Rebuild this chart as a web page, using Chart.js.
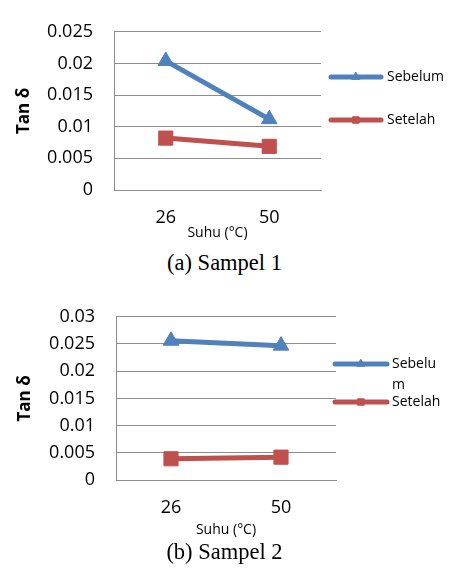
<!DOCTYPE html>
<html>
<head>
<meta charset="utf-8">
<script src="https://cdn.jsdelivr.net/npm/chart.js"></script>
<style>
    body { margin: 0; background: #fff; }
    #page { position: relative; width: 449px; height: 572px; overflow: hidden; }
    .box { position: absolute; left: 0; width: 449px; }
    .caption { position: absolute; left: 0; width: 449px; text-align: center;
        font-family: "Liberation Serif", serif; font-size: 22.5px; color: #000; }
</style>
</head>
<body>
<div id="page">
    <div class="box" style="top:0;height:250px"><canvas id="chart1" width="449" height="250"></canvas></div>
    <div class="caption" style="top:250px">(a) Sampel 1</div>
    <div class="box" style="top:285px;height:260px"><canvas id="chart2" width="449" height="260"></canvas></div>
    <div class="caption" style="top:539px">(b) Sampel 2</div>
</div>
<script>
// Data
const suhuLabels = ['26', '50'];
const seriesNames = ['Sebelum', 'Setelah'];

const sampel1Sebelum = [0.0204, 0.0112];
const sampel1Setelah = [0.0082, 0.0069];
const sampel1Ticks = ['0', '0.005', '0.01', '0.015', '0.02', '0.025'];

const sampel2Sebelum = [0.0256, 0.0247];
const sampel2Setelah = [0.0039, 0.0042];
const sampel2Ticks = ['0', '0.005', '0.01', '0.015', '0.02', '0.025', '0.03'];

const BLUE = '#4f81bd';
const RED = '#c0504d';
const GRID = '#8c8c8c';
const FONT = '"Open Sans", "Liberation Sans", sans-serif';

// legend drawn at the right side, like the Excel one
const sideLegend = {
    id: 'sideLegend',
    afterDraw(chart, args, opts) {
        const ctx = chart.ctx;
        ctx.save();
        ctx.font = '14px ' + FONT;
        ctx.fillStyle = '#000';
        ctx.textBaseline = 'middle';
        chart.data.datasets.forEach((ds, i) => {
            const y = opts.rows[i];
            ctx.strokeStyle = ds.borderColor;
            ctx.lineWidth = 5;
            ctx.lineCap = 'round';
            ctx.beginPath();
            ctx.moveTo(opts.x0, y);
            ctx.lineTo(opts.x1, y);
            ctx.stroke();
            ctx.fillStyle = ds.borderColor;
            ctx.lineWidth = 1;
            Chart.helpers.drawPoint(ctx, {
                pointStyle: ds.pointStyle, rotation: 0, borderWidth: 1, radius: 4.5
            }, (opts.x0 + opts.x1) / 2, y);
            ctx.fill();

            // wrap the label if it doesn't fit
            ctx.fillStyle = '#000';
            let lines = [];
            let cur = '';
            for (const ch of ds.label) {
                if (ctx.measureText(cur + ch).width > opts.maxWidth && cur) {
                    lines.push(cur);
                    cur = ch;
                } else {
                    cur += ch;
                }
            }
            lines.push(cur);
            lines.forEach((t, k) => ctx.fillText(t, opts.textX, y + k * 21));
        });
        ctx.restore();
    }
};

function makeChart(id, sebelum, setelah, ticks, cfg) {
    const maxVal = parseFloat(ticks[ticks.length - 1]);
    return new Chart(document.getElementById(id), {
        type: 'line',
        data: {
            labels: suhuLabels,
            datasets: [{
                label: seriesNames[0],
                data: sebelum,
                borderColor: BLUE,
                backgroundColor: BLUE,
                borderWidth: 5,
                pointStyle: 'triangle',
                pointRadius: 9,
                pointBorderWidth: 1
            }, {
                label: seriesNames[1],
                data: setelah,
                borderColor: RED,
                backgroundColor: RED,
                borderWidth: 5,
                pointStyle: 'rect',
                pointRadius: 10,
                pointBorderWidth: 1
            }]
        },
        options: {
            responsive: false,
            animation: false,
            layout: { padding: cfg.padding },
            plugins: {
                legend: { display: false },
                tooltip: { enabled: false },
                sideLegend: cfg.legend
            },
            scales: {
                x: {
                    offset: true,
                    grid: { display: false, drawTicks: false },
                    border: { color: GRID, width: 1 },
                    ticks: { color: '#000', font: { family: FONT, size: 18 }, padding: 17 },
                    title: {
                        display: true, text: 'Suhu (°C)', color: '#000', padding: 0,
                        font: { family: FONT, size: 14 }
                    },
                    afterFit: (s) => { s.height = cfg.xHeight; }
                },
                y: {
                    min: 0,
                    max: maxVal,
                    grid: { color: GRID, drawTicks: false },
                    border: { color: GRID, width: 1 },
                    ticks: {
                        stepSize: 0.005,
                        color: '#000',
                        font: { family: FONT, size: 18 },
                        padding: 21,
                        callback: (v, i) => ticks[i]
                    },
                    title: {
                        display: true, text: 'Tan δ', color: '#000', padding: 0,
                        font: { family: FONT, size: 17, weight: 'bold' }
                    },
                    afterFit: (s) => { s.width = cfg.yWidth; }
                }
            }
        },
        plugins: [sideLegend]
    });
}

makeChart('chart1', sampel1Sebelum, sampel1Setelah, sampel1Ticks, {
    padding: { left: 14, right: 128, top: 18, bottom: 9 },
    yWidth: 100,
    xHeight: 51,
    legend: { x0: 331, x1: 381, textX: 387, rows: [77, 120], maxWidth: 60 }
});

makeChart('chart2', sampel2Sebelum, sampel2Setelah, sampel2Ticks, {
    padding: { left: 15, right: 113, top: 15, bottom: 7 },
    yWidth: 101,
    xHeight: 58,
    legend: { x0: 335, x1: 387, textX: 392, rows: [79, 117], maxWidth: 50 }
});
</script>
</body>
</html>
